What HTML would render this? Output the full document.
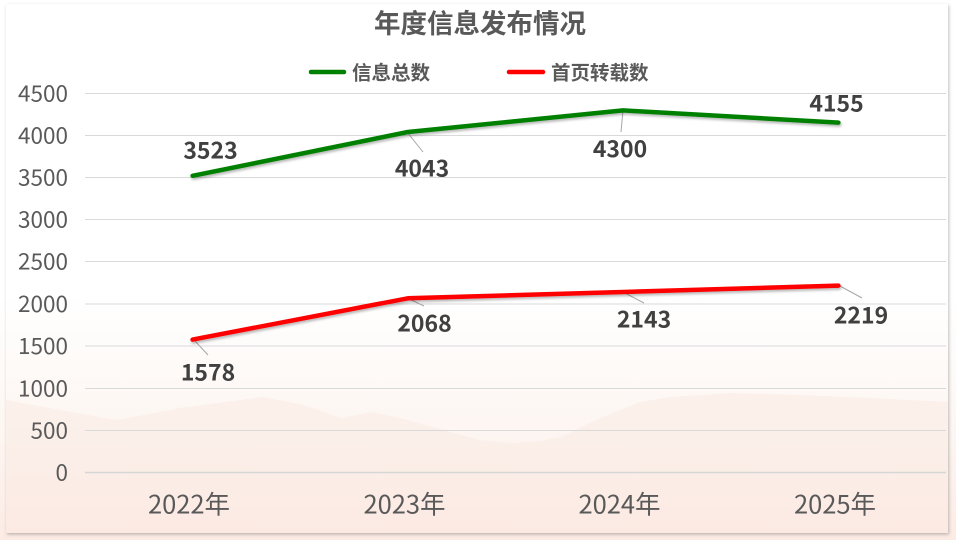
<!DOCTYPE html>
<html><head><meta charset="utf-8">
<style>
html,body{margin:0;padding:0;width:956px;height:540px;overflow:hidden;background:#fff;}
svg{display:block;}
text{font-family:"Noto Sans CJK SC","Liberation Sans",sans-serif;}
</style></head><body>
<svg width="956" height="540" viewBox="0 0 956 540" xmlns="http://www.w3.org/2000/svg">
<defs>
<linearGradient id="bg" x1="0" y1="0" x2="0" y2="1">
<stop offset="0" stop-color="#ffffff"/>
<stop offset="0.55" stop-color="#ffffff"/>
<stop offset="0.8" stop-color="#fdf6f2"/>
<stop offset="1" stop-color="#fcebe4"/>
</linearGradient>
<linearGradient id="mt" x1="0" y1="0" x2="0" y2="1">
<stop offset="0" stop-color="#f6e0d6" stop-opacity="0.35"/>
<stop offset="1" stop-color="#f9e4db" stop-opacity="0.2"/>
</linearGradient>
<filter id="fs" x="-10%" y="-10%" width="120%" height="120%">
<feDropShadow dx="1" dy="1.5" stdDeviation="1.5" flood-color="#000" flood-opacity="0.25"/>
</filter>
<filter id="ls" x="-5%" y="-20%" width="110%" height="140%">
<feDropShadow dx="1" dy="2" stdDeviation="1.2" flood-color="#000" flood-opacity="0.28"/>
</filter>
</defs>
<rect x="0" y="0" width="956" height="540" fill="url(#bg)"/>
<rect x="6" y="4" width="942" height="529" fill="url(#bg)" filter="url(#fs)"/>
<path d="M6,400 L60,410 L116,420 L180,408 L262,397 L300,404 L341,418 L372,412 L400,418 L451,432 L480,440 L512,443 L540,441 L561,437 L600,418 L640,402 L671,397 L732,393 L800,395 L870,398 L948,402 L948,533 L6,533 Z" fill="url(#mt)"/>
<g stroke="#d9d9d9" stroke-width="1">
<line x1="85" y1="93.5" x2="946" y2="93.5"/>
<line x1="85" y1="135.5" x2="946" y2="135.5"/>
<line x1="85" y1="177.5" x2="946" y2="177.5"/>
<line x1="85" y1="219.5" x2="946" y2="219.5"/>
<line x1="85" y1="261.5" x2="946" y2="261.5"/>
<line x1="85" y1="304" x2="946" y2="304"/>
<line x1="85" y1="346" x2="946" y2="346"/>
<line x1="85" y1="388.5" x2="946" y2="388.5"/>
<line x1="85" y1="430.5" x2="946" y2="430.5"/>
</g>
<line x1="85" y1="472.5" x2="946" y2="472.5" stroke="#d6d6d6" stroke-width="1.6"/>
<g fill="#595959" font-size="22.5" text-anchor="end">
<text x="68" y="101.5">4500</text>
<text x="68" y="143.5">4000</text>
<text x="68" y="185.5">3500</text>
<text x="68" y="227.5">3000</text>
<text x="68" y="269.5">2500</text>
<text x="68" y="312">2000</text>
<text x="68" y="354">1500</text>
<text x="68" y="396.5">1000</text>
<text x="68" y="438.5">500</text>
<text x="68" y="480.5">0</text>
</g>
<g fill="#595959" font-size="25.5" text-anchor="middle">
<text x="189" y="513.5">2022年</text>
<text x="404.5" y="513.5">2023年</text>
<text x="619.5" y="513.5">2024年</text>
<text x="835" y="513.5">2025年</text>
</g>
<text x="480" y="33" fill="#595959" font-size="26.5" font-weight="bold" text-anchor="middle">年度信息发布情况</text>
<line x1="311" y1="72" x2="344" y2="72" stroke="#008000" stroke-width="4.5" stroke-linecap="round"/>
<text x="352" y="79.5" fill="#595959" font-size="19.5" font-weight="bold">信息总数</text>
<line x1="509" y1="72" x2="543" y2="72" stroke="#ff0000" stroke-width="4.5" stroke-linecap="round"/>
<text x="551" y="79.5" fill="#595959" font-size="19.5" font-weight="bold">首页转载数</text>
<g stroke="#a6a6a6" stroke-width="1">
<line x1="407" y1="132" x2="423" y2="152"/>
<line x1="623" y1="110" x2="621" y2="132"/>
<line x1="195" y1="341" x2="208" y2="355"/>
<line x1="407" y1="298" x2="424" y2="306"/>
<line x1="623" y1="292" x2="644" y2="303"/>
<line x1="840" y1="286" x2="862" y2="298"/>
</g>
<polyline points="192.6,175.8 407.9,132 623.1,110.4 838.4,122.6" fill="none" stroke="#008000" stroke-width="4.5" stroke-linejoin="round" stroke-linecap="round" filter="url(#ls)"/>
<polyline points="192.6,339.6 407.9,298.3 623.1,292 838.4,285.6" fill="none" stroke="#ff0000" stroke-width="4.5" stroke-linejoin="round" stroke-linecap="round" filter="url(#ls)"/>
<g fill="#404040" font-size="23" font-weight="bold" text-anchor="middle">
<text x="210.5" y="158.5">3523</text>
<text x="422" y="176.5">4043</text>
<text x="620" y="157">4300</text>
<text x="836.5" y="111.5">4155</text>
<text x="208" y="380.5">1578</text>
<text x="424.5" y="331.5">2068</text>
<text x="644" y="327.5">2143</text>
<text x="861" y="323.5">2219</text>
</g>
</svg>
</body></html>
